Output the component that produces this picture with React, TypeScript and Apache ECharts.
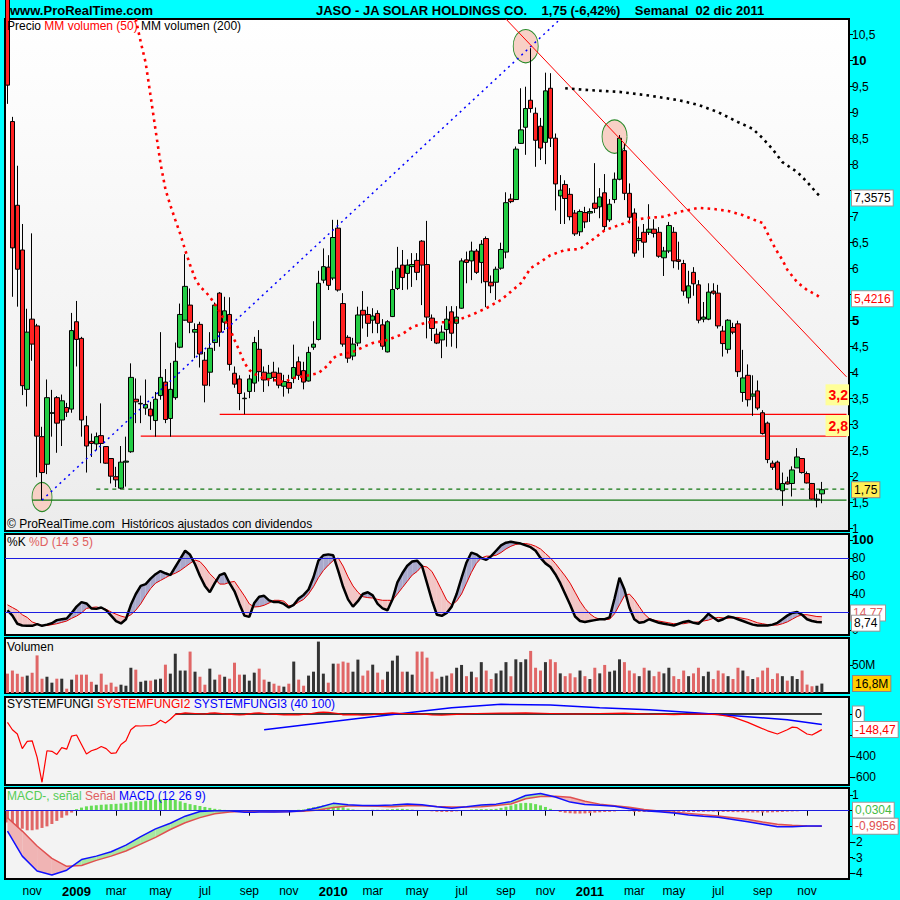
import React, { useEffect, useRef } from 'react';
import * as echarts from 'echarts';

const FONT = "'Liberation Sans', Arial, sans-serif";

// ---------- categories (weekly bars, dated by the Monday of each week) ----------
const START_WEEK = Date.UTC(2008, 8, 29);
const WEEK_COUNT = 171;
const LAST_DATA_WEEK = 165;
const MONTHS = ['ene', 'feb', 'mar', 'abr', 'may', 'jun', 'jul', 'ago', 'sep', 'oct', 'nov', 'dic'];

// ---------- price (weekly candles) ----------
const OPEN = [11.8,8.83,7.22,6.36,3.68,5.03,4.90,2.77,2.24,3.22,
3.52,3.09,3.33,3.30,4.98,4.66,2.98,2.68,2.63,2.79,
2.58,2.35,2.00,1.78,2.28,2.48,3.49,3.40,3.32,3.30,
3.08,3.56,3.82,3.12,3.52,4.49,5.01,5.30,4.78,4.93,
4.24,4.01,4.58,5.53,4.97,5.12,3.99,3.88,3.50,3.64,
3.80,4.45,4.01,3.89,4.01,3.99,3.74,3.81,3.89,4.21,
4.04,3.84,4.49,4.64,5.78,6.03,5.82,6.78,5.33,4.68,
4.32,4.57,5.20,5.12,5.01,5.14,4.92,4.40,5.08,5.62,
6.07,5.91,6.04,6.16,6.53,6.08,5.05,4.74,4.63,4.83,
5.17,4.95,5.24,6.17,6.15,6.34,6.12,6.58,5.74,5.74,
6.01,6.32,7.34,7.33,8.41,8.72,9.24,8.99,8.74,8.43,
9.47,8.51,7.40,7.62,7.43,7.07,6.71,7.08,7.07,7.26,
7.19,7.46,6.94,7.33,7.72,8.27,7.45,7.07,6.54,6.70,
6.70,6.76,6.70,6.21,6.34,6.70,6.17,6.10,5.44,5.93,
5.69,5.03,5.03,5.57,5.53,4.80,4.45,4.87,4.94,3.62,
3.95,3.55,3.65,3.23,3.03,2.26,2.28,1.73,1.90,1.87,
2.17,2.35,2.06,1.87,1.55,1.67];
const HIGH = [12.0,8.92,7.98,6.86,5.23,6.68,4.94,2.96,3.87,3.67,
3.55,3.58,3.42,5.15,5.38,4.69,3.17,2.83,2.85,3.41,
2.59,2.36,2.19,2.59,2.77,4.18,3.89,3.56,3.87,3.44,
3.63,4.78,4.07,4.19,4.58,5.33,6.28,5.62,4.95,4.98,
4.40,4.78,5.35,5.55,5.46,5.45,4.12,3.95,3.62,3.96,
4.69,4.82,4.12,4.15,4.21,4.10,3.96,3.96,4.54,4.31,
4.21,4.50,4.99,5.96,6.39,6.26,6.94,6.94,5.53,4.72,
4.67,5.27,5.57,5.27,5.24,5.20,5.03,5.01,5.96,6.42,
6.36,6.18,6.30,6.30,6.55,6.92,5.12,4.85,4.91,5.28,
5.28,5.28,6.20,6.33,6.52,6.38,6.55,6.62,5.87,6.04,
6.50,7.47,7.44,8.35,9.47,9.50,10.24,9.10,8.90,9.77,
9.76,8.60,7.80,7.70,7.55,7.13,7.14,7.19,7.16,8.03,
7.55,7.82,7.34,7.85,8.57,8.40,7.64,7.16,6.81,6.86,
7.24,6.95,6.80,6.42,6.90,6.80,6.52,6.17,5.96,6.03,
5.78,5.36,5.72,5.72,5.69,4.90,5.03,4.96,5.00,4.44,
4.16,3.95,3.85,3.28,3.06,2.31,2.31,2.08,2.00,2.20,
2.55,2.35,2.10,1.88,1.67,1.90];
const LOW = [9.17,5.46,5.27,3.57,3.35,4.23,1.99,1.55,2.05,2.77,
2.46,2.59,3.15,3.23,4.12,2.77,2.08,2.38,2.51,2.26,
2.25,1.87,1.80,1.76,1.81,2.46,3.03,3.03,3.19,2.90,
2.77,3.48,3.03,2.77,3.48,4.47,5.00,4.76,4.28,4.10,
3.43,3.74,4.42,4.50,4.82,4.04,3.71,3.28,3.20,3.51,
3.63,3.83,3.63,3.74,3.83,3.70,3.54,3.60,3.80,3.86,
3.68,3.83,4.44,4.62,5.72,5.59,5.78,5.56,4.50,4.19,
4.24,4.51,4.85,4.69,4.76,4.76,4.44,4.39,5.07,5.59,
5.59,5.60,5.65,5.78,5.30,4.66,4.61,4.55,4.28,4.50,
4.50,4.47,5.23,5.72,5.78,5.90,5.72,5.26,5.53,5.40,
5.98,6.20,7.26,7.32,8.40,8.19,9.00,7.96,8.09,8.01,
8.34,7.12,6.86,6.86,6.93,6.63,6.63,6.78,6.90,7.07,
6.97,6.74,6.90,7.26,7.70,7.32,6.87,6.23,6.35,6.21,
6.65,6.60,6.21,5.86,6.30,6.01,5.98,5.48,5.33,5.48,
4.95,4.97,5.01,5.50,4.85,4.31,4.37,4.74,3.92,3.44,
3.35,3.17,3.28,2.81,2.26,2.13,1.74,1.44,1.85,1.62,
2.17,2.06,1.87,1.56,1.41,1.49];
const CLOSE = [9.53,6.40,5.99,3.75,4.78,4.55,2.78,2.08,3.52,3.23,
3.03,3.46,3.24,4.81,4.64,3.09,2.59,2.64,2.77,2.64,
2.26,2.01,1.94,2.28,2.30,3.91,3.44,3.41,3.39,3.17,
3.49,3.91,3.10,3.68,4.22,5.12,5.66,4.97,4.83,4.36,
3.76,4.47,5.30,4.78,5.19,4.16,3.78,3.60,3.51,3.88,
4.58,4.02,3.86,3.99,3.91,3.76,3.83,3.70,4.10,3.95,
3.82,4.39,4.55,5.72,6.04,5.68,6.60,5.59,4.55,4.28,
4.55,5.11,5.11,4.95,5.09,4.95,4.51,4.98,5.60,6.01,
5.83,6.07,6.08,5.93,6.07,5.07,4.85,4.57,4.78,5.03,
4.76,5.07,6.15,6.12,6.34,5.93,6.47,5.75,5.67,5.99,
6.37,7.27,7.29,8.30,8.67,9.08,9.08,8.47,8.32,9.42,
8.51,7.63,7.51,7.35,7.00,6.67,7.10,6.90,7.10,7.16,
7.38,6.81,7.24,7.72,8.51,7.45,6.99,6.30,6.58,6.51,
6.76,6.68,6.24,6.34,6.83,6.15,6.14,5.57,5.67,5.71,
5.01,5.07,5.55,5.53,4.90,4.56,5.01,4.78,4.02,3.90,
3.48,3.59,3.32,2.83,2.33,2.18,1.76,1.87,1.86,2.13,
2.38,2.08,1.88,1.57,1.57,1.75];

// moving averages shown on price panel: [week index, value]
const MA50_PTS = [[26,10.80],[27,10.36],[28,9.96],[29,9.32],[30,8.67],[31,8.03],[32,7.53],[33,7.22],[34,6.94],[35,6.67],[36,6.36],[37,6.07],[38,5.82],[39,5.65],[40,5.57],[41,5.46],[42,5.32],[43,5.17],[44,5.01],[45,4.86],[46,4.63],[47,4.42],[48,4.19],[49,4.05],[50,3.98],[52,3.88],[54,3.86],[56,3.82],[58,3.90],[60,3.93],[63,3.99],[65,4.15],[66,4.28],[67,4.34],[70,4.40],[72,4.49],[74,4.57],[77,4.63],[80,4.74],[82,4.88],[85,4.97],[87,4.97],[90,4.97],[94,5.11],[97,5.24],[100,5.40],[104,5.72],[106,6.01],[108,6.13],[110,6.26],[113,6.36],[116,6.38],[119,6.59],[121,6.74],[124,6.84],[127,6.94],[130,6.98],[133,7.00],[136,7.09],[140,7.17],[143,7.15],[146,7.11],[149,7.03],[151,6.95],[153,6.88],[154,6.68],[155,6.49],[156,6.32],[157,6.17],[158,5.98],[160,5.74],[162,5.59],[164,5.49],[165,5.42]];
const MA200_PTS = [[113,9.47],[117,9.44],[124,9.40],[130,9.33],[136,9.24],[140,9.15],[144,9.01],[148,8.82],[151,8.69],[153,8.51],[155,8.30],[157,8.05],[160,7.86],[162,7.67],[164,7.45],[165,7.36]];
const BLUE_TREND = [[7,1.55],[112,10.8]];
const RED_TREND = [[101,10.8],[170,3.92]];
const LEVEL_START = [43, 27, 5, 18];
const LEVEL_VALUE = [3.2, 2.78, 1.55, 1.76];
const ELLIPSE_X = [7, 105, 123];
const ELLIPSE_Y = [1.61, 10.28, 8.54];
const PRICE_TICKS = [1,1.5,2,2.5,3,3.5,4,4.5,5,5.5,6,6.5,7,7.5,8,8.5,9,9.5,10,10.5];
const PRICE_LABELS = [1,1.5,2,2.5,3,3.5,4,4.5,5,6,6.5,7,8,8.5,9,9.5,10,10.5];

// ---------- stochastic ----------
const STOCH_K = [22,16,7,5,4.7,4.7,6.6,4.7,6,7.5,
11,12,12.8,19,26,31,29.5,24,23.5,25,
22,16,10,7.3,12,28,40,49,51,57,
62,65.5,63,61,70,79,88,83.5,73,60,
49,42,52,61,63,52,43,29,16,14.6,
30,37,38,33,31,31,29,25,28,35,
39,45,58.6,77,83,84,83,66,48,34,
26,32,40,42,38.5,29,24,22,34,53,
63,71.4,76,77,71,52,33,17,15.8,19,
26,40,58,75,86,84,80,78,82,88,
94,97,98,97,96,94,92,88,80,74,
70,62,52,40,28,15,10,9,10,11,
12,12,14,35,58,45,25,12,8,9,
12,10,8,7,6,5,7,9,10,8,
7,12,18,14,10,12,15,14,12,10,
8,6,5,5,5,6,8,12,16,19,
20,17,12,10,9,8.74];
const STOCH_D = [28,25,22,17,14,9,7,5,5,6,
7,8.5,10,13,15.5,19,24,25,25.6,24.5,
23,20,17.6,15.5,14,17,22,29,38,46,
52,55,58,61,63,66,70,74,77.7,76,
70,62.5,57,51,51,53,54,46,38,29,
25.6,26,27.5,30,33,33,32,27,27.5,31,
34,40,48,58,66,72,77,80,71,59,
49,42,37,36,35.5,34,33,33,33,40,
47,54,61,65,71,70,65,55,44,33,
28,32,40,52,64,74,80,82,82,83,
86,90,93,95,96,96,95,93,90,85,
80,74,67,60,52,42,32,24,18,14,
12,11.5,12,18,28,38,40,34,26,18,
13,11,10,9,8,7,7,7,8,8.5,
9,10,11,13,14,13.5,13,14,14,13,
12,10,8,7,6,5.5,5.5,7,9,12,
15,17,17,16,15,14.77];
const STOCH_TICKS = [0,20,40,60,80,100];
const STOCH_LABELS = [0,40,60,80,100];

// ---------- volume (millions) ----------
const VOLUME_M = [34.5,40,34.5,29,31,36,67,25.5,29,18.4,
25.5,25.5,7.7,23.8,32.7,32.7,32.7,20,14.8,34.5,
14.8,18.4,11.3,14.8,13,45,41.6,20,22,22,
24,25.5,50.5,34.5,70,40,40,73.8,38,29,
14.8,43.4,23.8,32.7,29,25.5,54,32.7,32.7,22,
36.3,43.4,23.8,20,16.6,13,11.3,16.6,56,23.8,
13,31,38,91.6,34.5,18.4,52.3,52.3,56,54,
38,59.5,31,40,50.5,36.3,23.8,38,57.7,66.6,
38,38,32.7,73.8,73.8,63,38,25.5,29,31,
35,45,50,30,38,28,55,40,25,35,
40,55,30,60,55,60,75,45,40,55,
60,55,35,30,35,28,40,30,25,45,
35,50,38,40,60,55,40,35,30,45,
40,30,38,35,45,30,25,40,30,35,
45,30,38,25,40,35,30,25,45,40,
30,25,28,40,45,25,35,30,22,30,
25,40,15,12,13,16.8];
const VOL_TICKS = [50];

// ---------- SYSTEMFUNGI ----------
const SF1_PTS = [[34,0],[165,0]];
const SF2_PTS = [[0,-80],[1,-150],[2,-190],[3,-330],[4,-260],[5,-255],[6,-410],[7,-650],[8,-350],[9,-355],[10,-385],[11,-320],[12,-335],[13,-210],[14,-200],[15,-290],[16,-380],[17,-350],[18,-335],[19,-310],[20,-330],[21,-375],[22,-370],[23,-290],[24,-255],[25,-150],[26,-112],[27,-114],[28,-112],[29,-110],[30,-95],[31,-60],[32,-85],[33,-50],[34,-5],[36,10],[38,5],[40,0],[41,8],[42,10],[44,2],[46,-5],[47,-8],[48,-5],[50,8],[51,10],[53,0],[56,-8],[57,-5],[59,-8],[61,0],[63,15],[64,18],[65,15],[67,5],[68,-8],[70,-5],[72,-10],[74,-5],[76,5],[78,10],[80,5],[82,5],[84,0],[86,-8],[88,-10],[90,-5],[95,5],[100,8],[105,10],[110,5],[115,0],[120,5],[125,8],[130,0],[135,-5],[140,0],[144,-5],[147,-30],[150,-80],[152,-120],[154,-160],[156,-190],[158,-150],[159,-125],[160,-130],[162,-190],[163,-200],[164,-175],[165,-148.47]];
const SF3_PTS = [[52,-150],[71,-42],[90,60],[100,92],[110,85],[120,60],[130,40],[140,10],[150,-25],[158,-55],[165,-100]];
const SF_TICKS = [0,-200,-400,-600];
const SF_LABELS = [-400,-600];

// ---------- MACD ----------
const MACD_IDX = [0,3,6,9,12,15,18,21,24,27,30,33,36,39,42,45,48,51,54,57,60,63,66,69,72,75,78,81,84,87,90,93,96,99,102,105,108,111,114,117,120,123,126,129,132,135,138,141,144,147,150,153,156,159,162,165];
const MACD_LINE = [-1.3,-2.9,-3.85,-4.1,-3.8,-3.12,-2.9,-2.62,-2.2,-1.66,
-1.16,-0.8,-0.35,-0.05,0.0,0.0,-0.1,-0.09,-0.08,-0.07,
0.0,0.2,0.47,0.38,0.34,0.34,0.36,0.43,0.38,0.25,
0.16,0.25,0.36,0.42,0.58,0.97,1.1,0.88,0.55,0.4,
0.35,0.28,0.12,0.0,-0.06,-0.15,-0.27,-0.35,-0.42,-0.56,
-0.7,-0.86,-1.02,-1.03,-0.98,-0.97];
const MACD_SIGNAL = [-0.45,-1.3,-2.25,-3.04,-3.55,-3.5,-3.17,-2.9,-2.57,-2.13,
-1.7,-1.2,-0.77,-0.44,-0.2,-0.08,-0.04,-0.05,-0.06,-0.05,
-0.03,0.05,0.2,0.3,0.3,0.28,0.26,0.32,0.32,0.27,
0.23,0.23,0.26,0.33,0.43,0.76,0.9,0.93,0.86,0.6,
0.42,0.32,0.22,0.08,-0.02,-0.1,-0.17,-0.25,-0.34,-0.45,
-0.56,-0.72,-0.86,-0.93,-0.97,-1.0];
const MACD_HIST = [-0.75,-0.9,-1.05,-1.15,-1.25,-1.25,-1.2,-1.1,-1.0,-0.85,
-0.65,-0.45,-0.3,-0.12,0.1,0.2,0.28,0.32,0.35,0.38,
0.4,0.42,0.44,0.46,0.5,0.55,0.6,0.62,0.65,0.68,
0.7,0.72,0.72,0.74,0.7,0.6,0.5,0.42,0.36,0.3,
0.24,0.18,0.12,0.08,0.05,0.03,0.02,0,-0.02,-0.03,
-0.03,-0.02,-0.02,-0.01,-0.01,-0.01,0,0.02,0.04,0.06,
0.08,0.16,0.22,0.28,0.34,0.38,0.36,0.3,0.22,0.14,
0.08,0.05,0.04,0.05,0.06,0.06,0.06,0.08,0.1,0.12,
0.12,0.1,0.07,0.05,0.03,-0.01,-0.04,-0.07,-0.08,-0.08,
-0.07,-0.04,0,0.04,0.07,0.09,0.1,0.1,0.1,0.12,
0.18,0.26,0.34,0.42,0.48,0.5,0.48,0.42,0.34,0.24,
0.12,0,-0.08,-0.13,-0.16,-0.18,-0.18,-0.17,-0.15,-0.12,
-0.1,-0.08,-0.07,-0.05,0,0.01,-0.03,-0.07,-0.08,-0.08,
-0.08,-0.08,-0.08,-0.07,-0.07,-0.07,-0.07,-0.07,-0.08,-0.08,
-0.07,-0.07,-0.06,-0.06,-0.07,-0.08,-0.08,-0.09,-0.09,-0.1,
-0.1,-0.11,-0.11,-0.11,-0.11,-0.1,-0.09,-0.08,-0.06,-0.05,
-0.04,-0.02,-0.01,0,0.01,0.03];
const MACD_TICKS = [1,0,-1,-2,-3,-4];
const MACD_LABELS = [1,-2,-3,-4];

// ---------- helpers ----------
const CATS = Array.from({ length: WEEK_COUNT }, (_, i) =>
  new Date(START_WEEK + i * 7 * 86400000).toISOString().slice(0, 10));
const monthOf = (i: number) => +CATS[i].slice(5, 7) - 1;
const isLabelWeek = (i: number) =>
  i > 0 && i <= LAST_DATA_WEEK && monthOf(i) !== monthOf(i - 1) && monthOf(i) % 2 === 0;
const fmtNum = (v: number) => String(v).replace('.', ',');

const GRIDS = [
  { top: 19, height: 512 },
  { top: 534, height: 101 },
  { top: 638, height: 55 },
  { top: 697, height: 88 },
  { top: 788, height: 91 },
];

function fillBetween(xs: number[], A: number[], B: number[], up: string, down: string) {
  return (params: any, api: any) => {
    const j = params.dataIndex;
    if (j >= xs.length - 1) return null;
    const a0 = api.coord([xs[j], A[j]]);
    const a1 = api.coord([xs[j + 1], A[j + 1]]);
    const b0 = api.coord([xs[j], B[j]]);
    const b1 = api.coord([xs[j + 1], B[j + 1]]);
    const d0 = A[j] - B[j];
    const d1 = A[j + 1] - B[j + 1];
    const children: any[] = [];
    if (d0 * d1 >= 0) {
      children.push({ type: 'polygon', shape: { points: [a0, a1, b1, b0] }, style: { fill: d0 + d1 >= 0 ? up : down } });
    } else {
      const t = d0 / (d0 - d1);
      const m = [a0[0] + t * (a1[0] - a0[0]), a0[1] + t * (a1[1] - a0[1])];
      children.push({ type: 'polygon', shape: { points: [a0, m, b0] }, style: { fill: d0 > 0 ? up : down } });
      children.push({ type: 'polygon', shape: { points: [m, a1, b1] }, style: { fill: d1 > 0 ? up : down } });
    }
    return { type: 'group', children };
  };
}

function buildOption(): any {
  const grid = GRIDS.map((g, i) => ({
    left: 5, width: 844, top: g.top, height: g.height, show: true,
    borderColor: '#000', borderWidth: 2,
    backgroundColor: i === 0
      ? new echarts.graphic.LinearGradient(0, 0, 0, 1, [{ offset: 0, color: '#ffffff' }, { offset: 1, color: '#ececec' }])
      : '#f3f3f3',
  }));
  const xAxis = GRIDS.map((_, i) => ({
    type: 'category', gridIndex: i, data: CATS, boundaryGap: true,
    axisLine: { show: false },
    splitLine: { show: false },
    axisTick: { show: i === 4, interval: (idx: number) => isLabelWeek(idx), alignWithLabel: true, length: 5, lineStyle: { color: '#000' } },
    axisLabel: {
      show: i === 4, interval: (idx: number) => isLabelWeek(idx), margin: 6,
      color: '#000', fontSize: 12, fontFamily: FONT,
      formatter: (v: string) => { const m = +v.slice(5, 7) - 1; return m === 0 ? `{y|${v.slice(0, 4)}}` : MONTHS[m]; },
      rich: { y: { fontWeight: 'bold', fontSize: 13, fontFamily: FONT, color: '#000' } },
    },
  }));
  const yBase = (i: number, min: number, max: number, ticks: number[], labels: number[], fmt: (v: number) => string) => ({
    type: 'value', gridIndex: i, position: 'right', min, max, scale: true,
    splitLine: { show: false },
    axisLine: { show: false },
    axisTick: { show: true, length: 4, customValues: ticks, lineStyle: { color: '#000' } },
    axisLabel: {
      customValues: labels, margin: 3, color: '#000', fontSize: 12, fontFamily: FONT, formatter: fmt,
      rich: { b: { fontWeight: 'bold', fontSize: 13, fontFamily: FONT, color: '#000' } },
    },
  });
  const yAxis = [
    yBase(0, 0.956, 10.802, PRICE_TICKS, PRICE_LABELS, (v) => (v === 10 || v === 5 ? `{b|${fmtNum(v)}}` : fmtNum(v))),
    yBase(1, -5.5, 106.6, STOCH_TICKS, STOCH_LABELS, (v) => (v === 100 ? `{b|100}` : String(v))),
    yBase(2, 0, 98, VOL_TICKS, VOL_TICKS, (v) => `${v}M`),
    yBase(3, -676, 162, SF_TICKS, SF_LABELS, (v) => String(v)),
    yBase(4, -4.36, 1.45, MACD_TICKS, MACD_LABELS, (v) => String(v)),
  ];

  const candleData = OPEN.map((o, i) => [o, CLOSE[i], LOW[i], HIGH[i]]);
  const series: any[] = [];

  // price panel
  series.push({
    type: 'scatter', xAxisIndex: 0, yAxisIndex: 0, z: 1, silent: true,
    data: ELLIPSE_X.map((x, i) => ({ value: [x, ELLIPSE_Y[i]], symbolSize: i === 0 ? [20, 29] : [25, 33] })),
    itemStyle: { color: '#f8d0c6', borderColor: '#2a8a2a', borderWidth: 1, opacity: 1 },
  });
  LEVEL_START.forEach((s, i) => {
    series.push({
      type: 'line', xAxisIndex: 0, yAxisIndex: 0, z: 2, symbol: 'none', silent: true,
      data: [[s, LEVEL_VALUE[i]], [WEEK_COUNT - 1, LEVEL_VALUE[i]]],
      lineStyle: { width: 1.2, color: i < 2 ? '#ff0000' : '#117711', type: i === 3 ? [4, 4] : 'solid' },
    });
  });
  series.push({
    type: 'candlestick', xAxisIndex: 0, yAxisIndex: 0, z: 3, data: candleData, barWidth: 5, clip: true,
    itemStyle: { color: '#22cc44', color0: '#ff2222', borderColor: '#000', borderColor0: '#000', borderWidth: 1 },
  });
  series.push({
    type: 'line', xAxisIndex: 0, yAxisIndex: 0, z: 4, symbol: 'none', data: BLUE_TREND, clip: true,
    lineStyle: { color: '#0000ff', width: 1.5, type: [2, 4] },
  });
  series.push({
    type: 'line', xAxisIndex: 0, yAxisIndex: 0, z: 4, symbol: 'none', data: RED_TREND, clip: true,
    lineStyle: { color: '#ff0000', width: 1 },
  });
  series.push({
    type: 'line', xAxisIndex: 0, yAxisIndex: 0, z: 5, symbol: 'none', data: MA50_PTS, clip: true,
    lineStyle: { color: '#ff0000', width: 2.6, type: [2.6, 4.2] },
  });
  series.push({
    type: 'line', xAxisIndex: 0, yAxisIndex: 0, z: 5, symbol: 'none', data: MA200_PTS, clip: true,
    lineStyle: { color: '#000000', width: 2.6, type: [2.6, 4.2] },
  });

  // stochastic
  const stIdx = STOCH_K.map((_, i) => i);
  series.push({
    type: 'custom', xAxisIndex: 1, yAxisIndex: 1, z: 1, silent: true, clip: true,
    data: stIdx.map((i) => [i, STOCH_K[i], STOCH_D[i]]),
    encode: { x: 0, y: [1, 2] },
    renderItem: fillBetween(stIdx, STOCH_K, STOCH_D, '#a9a9cc', '#f2c6c6'),
  });
  series.push({
    type: 'line', xAxisIndex: 1, yAxisIndex: 1, z: 3, symbol: 'none', data: STOCH_D.map((v, i) => [i, v]),
    lineStyle: { color: '#e00000', width: 1 },
    markLine: { silent: true, symbol: 'none', label: { show: false }, lineStyle: { color: '#1c1ce0', width: 1.2, type: 'solid' }, data: [{ yAxis: 80 }, { yAxis: 20 }] },
  });
  series.push({
    type: 'line', xAxisIndex: 1, yAxisIndex: 1, z: 4, symbol: 'none', data: STOCH_K.map((v, i) => [i, v]),
    lineStyle: { color: '#000', width: 2.5 },
  });

  // volume
  series.push({
    type: 'bar', xAxisIndex: 2, yAxisIndex: 2, barWidth: 3,
    data: VOLUME_M.map((v, i) => ({ value: v, itemStyle: { color: CLOSE[i] >= OPEN[i] ? '#333333' : '#e06666' } })),
  });

  // systemfungi
  series.push({ type: 'line', xAxisIndex: 3, yAxisIndex: 3, z: 2, symbol: 'none', data: SF1_PTS, lineStyle: { color: '#000', width: 1.5 } });
  series.push({ type: 'line', xAxisIndex: 3, yAxisIndex: 3, z: 3, symbol: 'none', data: SF3_PTS, lineStyle: { color: '#0000ff', width: 1.5 } });
  series.push({ type: 'line', xAxisIndex: 3, yAxisIndex: 3, z: 4, symbol: 'none', data: SF2_PTS, lineStyle: { color: '#ff0000', width: 1.2 } });

  // MACD
  series.push({
    type: 'bar', xAxisIndex: 4, yAxisIndex: 4, barWidth: 3, z: 1,
    data: MACD_HIST.map((v) => ({ value: v, itemStyle: { color: v >= 0 ? '#66dd55' : '#e06666' } })),
  });
  series.push({
    type: 'custom', xAxisIndex: 4, yAxisIndex: 4, z: 2, silent: true, clip: true,
    data: MACD_IDX.map((x, j) => [x, MACD_LINE[j], MACD_SIGNAL[j]]),
    encode: { x: 0, y: [1, 2] },
    renderItem: fillBetween(MACD_IDX, MACD_LINE, MACD_SIGNAL, '#a8e8a0', '#f0b4b4'),
  });
  series.push({
    type: 'line', xAxisIndex: 4, yAxisIndex: 4, z: 3, symbol: 'none',
    data: MACD_IDX.map((x, j) => [x, MACD_SIGNAL[j]]), lineStyle: { color: '#e05050', width: 1.5 },
    markLine: { silent: true, symbol: 'none', label: { show: false }, lineStyle: { color: '#1c1ce0', width: 1.2, type: 'solid' }, data: [{ yAxis: 0 }] },
  });
  series.push({
    type: 'line', xAxisIndex: 4, yAxisIndex: 4, z: 4, symbol: 'none',
    data: MACD_IDX.map((x, j) => [x, MACD_LINE[j]]), lineStyle: { color: '#1010ff', width: 1.5 },
  });

  return {
    animation: false,
    backgroundColor: '#00ffff',
    textStyle: { fontFamily: FONT },
    grid, xAxis, yAxis, series,
  };
}

function text(x: number, y: number, t: string, extra: any = {}, z = 50) {
  return {
    type: 'text', x, y, z, silent: true,
    style: { text: t, font: `12px ${FONT}`, fill: '#000', verticalAlign: 'middle', align: 'left', ...extra },
  };
}
function box(x: number, y: number, t: string, fill: string, bg: string, z = 60, border = '#999') {
  return text(x, y, t, { fill, backgroundColor: bg, borderColor: border, borderWidth: 1, padding: [2, 2, 1, 2] }, z);
}

function buildGraphics(chart: any) {
  const py = (axis: number, v: number) => chart.convertToPixel({ yAxisIndex: axis }, v) as number;
  const g: any[] = [];
  g.push(text(10, 10, 'www.ProRealTime.com', { font: `bold 13px ${FONT}` }));
  g.push(text(316, 10, 'JASO - JA SOLAR HOLDINGS CO.    1,75 (-6,42%)    Semanal  02 dic 2011', { font: `bold 13px ${FONT}` }));
  g.push(text(7, 26, '{a|Precio }{r|MM volumen (50) }{a|MM volumen (200)}', {
    rich: { a: { fill: '#000', font: `12px ${FONT}` }, r: { fill: '#ff0000', font: `12px ${FONT}` } },
  }));
  g.push(text(7, 524, '© ProRealTime.com  Históricos ajustados con dividendos'));
  g.push(text(7, 542, '{a|%K }{r|%D (14 3 5)}', {
    rich: { a: { fill: '#000', font: `12px ${FONT}` }, r: { fill: '#e06060', font: `12px ${FONT}` } },
  }));
  g.push(text(7, 647, 'Volumen'));
  g.push(text(7, 704, '{a|SYSTEMFUNGI }{r|SYSTEMFUNGI2 }{b|SYSTEMFUNGI3 (40 100)}', {
    rich: { a: { fill: '#000', font: `12px ${FONT}` }, r: { fill: '#ff0000', font: `12px ${FONT}` }, b: { fill: '#0000ff', font: `12px ${FONT}` } },
  }));
  g.push(text(7, 796, '{g|MACD-, señal }{r|Señal }{b|MACD (12 26 9)}', {
    rich: { g: { fill: '#55cc55', font: `12px ${FONT}` }, r: { fill: '#e06060', font: `12px ${FONT}` }, b: { fill: '#0000ff', font: `12px ${FONT}` } },
  }));

  // price panel boxes
  g.push(box(852, py(0, 7.3575), '7,3575', '#000', '#ffffff'));
  g.push(box(852, py(0, 5.4216), '5,4216', '#ff0000', '#ffffff'));
  g.push(box(852, py(0, 1.75), '1,75', '#000', '#ffee55', 60, '#888'));
  const lvl = (v: number, t: string, off: number) => text(849, py(0, v) - off, t, {
    align: 'right', verticalAlign: 'bottom', font: `bold 14px ${FONT}`, fill: '#ff0000',
    backgroundColor: '#ffff99', padding: [4, 1, 3, 3],
  }, 40);
  g.push(lvl(3.2, '3,2', 9));
  g.push(lvl(2.78, '2,8', 0));

  // stochastic
  g.push(box(851, py(1, 15.5) - 3, '14,77', '#e06060', '#ffffff', 60));
  g.push(box(852, py(1, 8.74) + 1, '8,74', '#000', '#ffffff', 61));
  // volume
  g.push(box(853, py(2, 16.8), '16,8M', '#000', '#ffcc00', 60, '#888'));
  // systemfungi
  g.push(box(853, py(3, 0), '0', '#000', '#ffffff', 60));
  g.push(box(853, py(3, -148.47), '-148,47', '#ff0000', '#ffffff', 61));
  // macd
  g.push(box(853, py(4, 0.0304), '0,0304', '#44bb44', '#ffffff', 60));
  g.push(box(853, py(4, -0.9956), '-0,9956', '#e05050', '#ffffff', 60));
  return g;
}

export default function App() {
  const ref = useRef<HTMLDivElement>(null);
  useEffect(() => {
    document.body.style.margin = '0';
    const chart = echarts.init(ref.current as HTMLDivElement, null, { renderer: 'svg' });
    chart.setOption(buildOption());
    chart.setOption({ graphic: buildGraphics(chart) });
    return () => chart.dispose();
  }, []);
  return <div ref={ref} style={{ width: 900, height: 900 }} />;
}
